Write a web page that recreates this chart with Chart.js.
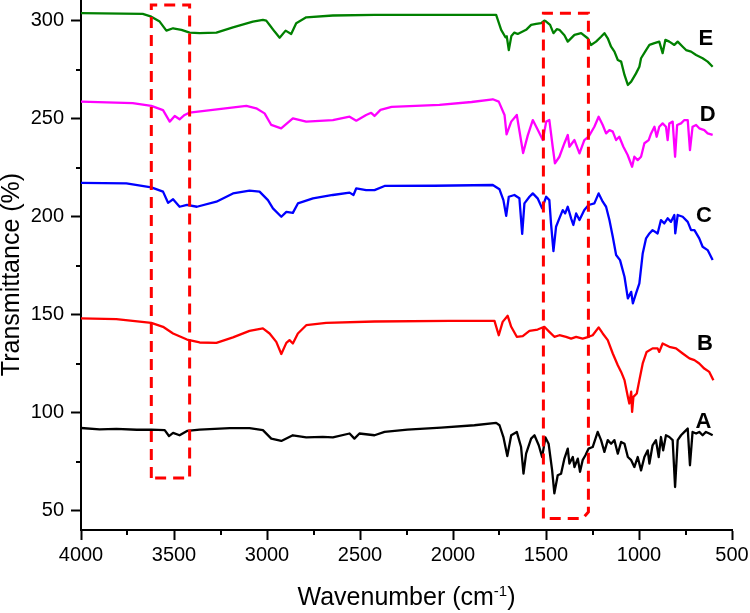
<!DOCTYPE html>
<html>
<head>
<meta charset="utf-8">
<title>FTIR spectra A-E</title>
<script src="https://cdn.jsdelivr.net/npm/chart.js@4.4.1/dist/chart.umd.min.js"></script>
<style>
    html, body { margin: 0; padding: 0; background: #fff; }
    #ftir { display: block; }
</style>
</head>
<body>
<canvas id="ftir" width="750" height="613"></canvas>
<script>
'use strict';

/* spectra: [wavenumber (cm-1), transmittance (%)] */
var seriesA = [
    [4000, 92.3], [3900, 91.6], [3810, 91.9], [3700, 91.4], [3622, 91.5], [3550, 91.2], [3527, 88.2],
    [3505, 89.8], [3470, 88.6], [3430, 90.8], [3362, 91.5], [3200, 92.2], [3094, 92.2], [3022, 91.2],
    [2977, 86.9], [2923, 85.7], [2861, 88.6], [2789, 87.5], [2700, 87.8], [2646, 87.5], [2556, 89.5],
    [2530, 86.9], [2503, 89.5], [2422, 88.6], [2368, 90.3], [2245, 91.5], [2064, 92.5], [1885, 93.7],
    [1768, 94.9], [1750, 93.7], [1729, 87.7], [1708, 78], [1687, 88.6], [1657, 90.3], [1634, 82.6],
    [1621, 69], [1607, 79.2], [1580, 86.9], [1562, 88.6], [1539, 83.5], [1521, 77.5], [1503, 87.5],
    [1486, 84.3], [1467, 70.7], [1455, 59], [1437, 68.2], [1419, 69], [1401, 76.7], [1383, 81.8],
    [1374, 74.2], [1356, 77.5], [1347, 72.4], [1329, 76.7], [1317, 70], [1303, 75.9], [1288, 78.4],
    [1271, 81.8], [1249, 82.6], [1222, 90.3], [1204, 86.1], [1186, 80.1], [1168, 86.1], [1150, 84.3],
    [1132, 86.1], [1114, 79.2], [1096, 85.2], [1078, 84.3], [1060, 77.5], [1042, 75.9], [1025, 72.4],
    [1007, 77.5], [989, 70.7], [971, 77.5], [953, 80.9], [944, 74.2], [927, 83.5], [909, 86.1],
    [894, 77.5], [882, 87.7], [870, 80.9], [855, 88.6], [837, 87.7], [819, 86.1], [806, 62.2],
    [792, 86.1], [774, 88.6], [756, 90.3], [738, 92], [726, 73.3], [712, 90.3], [693, 89.5],
    [676, 90.3], [658, 88.6], [640, 90.3], [622, 89.5], [604, 88.6]
];

var seriesB = [
    [4000, 148.2], [3810, 147.8], [3622, 145.9], [3559, 143.9], [3505, 140.5], [3430, 137.4], [3362, 135.9],
    [3272, 135.7], [3183, 138.5], [3094, 141.8], [3022, 143.1], [2986, 140.5], [2950, 136.2], [2923, 130],
    [2896, 135.7], [2879, 137.1], [2861, 135.4], [2834, 140.5], [2789, 144.7], [2682, 145.9], [2422, 146.6],
    [2019, 146.9], [1777, 146.9], [1754, 139.6], [1733, 146.4], [1706, 149.5], [1687, 143.9], [1657, 138.8],
    [1625, 139.1], [1589, 141.8], [1545, 142.5], [1509, 143.9], [1482, 141.3], [1455, 138.8], [1428, 139.6],
    [1392, 138.8], [1365, 137.9], [1338, 138.8], [1303, 137.9], [1271, 138.8], [1249, 139.6], [1217, 143.6],
    [1195, 140.5], [1168, 137.1], [1141, 130.3], [1114, 124.3], [1096, 120.9], [1078, 116.7], [1060, 108.2],
    [1052, 104.8], [1042, 110.8], [1037, 100.5], [1030, 108.2], [1012, 109.9], [998, 116.7], [980, 125.2],
    [959, 131.1], [927, 132.9], [900, 132.9], [891, 131.1], [873, 135.4], [837, 133.7], [801, 132.9],
    [765, 130.3], [729, 127.8], [702, 126.9], [676, 125.2], [649, 122.6], [622, 120.9], [600, 116.7]
];

var seriesC = [
    [4000, 217.3], [3756, 217], [3622, 215], [3559, 212.8], [3532, 207.1], [3505, 208.9], [3470, 205.1],
    [3430, 206], [3377, 205.1], [3272, 207.7], [3183, 211.9], [3094, 213.3], [3040, 212.8], [2995, 208.5],
    [2968, 204.3], [2923, 200], [2896, 202.5], [2861, 202], [2834, 206.8], [2753, 209.4], [2646, 211.1],
    [2556, 212.3], [2535, 211.1], [2520, 214.5], [2467, 213.6], [2422, 213.6], [2368, 215.7], [2100, 215.8],
    [1786, 216.2], [1750, 214], [1729, 208.5], [1714, 200.5], [1700, 210.2], [1670, 211.1], [1643, 209.4],
    [1628, 191.3], [1616, 206.8], [1589, 210.2], [1571, 211.9], [1545, 209.4], [1521, 204.3], [1499, 210.2],
    [1482, 208.5], [1473, 196.6], [1460, 182.5], [1446, 194.9], [1432, 198.3], [1410, 203.4], [1397, 201.7],
    [1383, 205.1], [1365, 199.2], [1353, 195.8], [1338, 201.7], [1320, 198.3], [1294, 203.4], [1271, 206],
    [1240, 206.8], [1217, 211.9], [1195, 207.7], [1177, 205.1], [1159, 198.3], [1141, 189.8], [1123, 180.5],
    [1102, 177.9], [1078, 169.4], [1060, 158.4], [1042, 161.7], [1033, 155.8], [1016, 160.9], [998, 166],
    [980, 181.3], [962, 189], [944, 191.5], [927, 193.2], [900, 191.5], [882, 198.3], [864, 196.6],
    [846, 199.2], [828, 197.4], [810, 200.9], [805, 191.5], [792, 200.9], [765, 200], [738, 197.4],
    [720, 193.2], [702, 193.2], [676, 189], [658, 184.7], [631, 183], [604, 177.9]
];

var seriesD = [
    [4000, 258.7], [3722, 257.9], [3622, 256.5], [3559, 254.4], [3523, 248.5], [3496, 251.4], [3470, 249.7],
    [3443, 251.9], [3416, 253.1], [3111, 256.5], [3058, 255.3], [3013, 252.7], [2977, 246.8], [2924, 245.1],
    [2861, 250.2], [2789, 248.5], [2646, 249.3], [2556, 251], [2520, 249], [2467, 251.9], [2440, 253],
    [2422, 251.4], [2390, 254.5], [2330, 256], [2073, 257], [1900, 258.5], [1786, 259.9], [1754, 258.7],
    [1723, 251.9], [1712, 242], [1687, 248.5], [1657, 251.9], [1623, 232.5], [1598, 241.5], [1571, 249.3],
    [1545, 244.5], [1517, 239.1], [1499, 248.5], [1482, 249.3], [1464, 235.7], [1452, 227.2], [1428, 230.6],
    [1401, 237.5], [1383, 241.7], [1374, 235.7], [1347, 239.1], [1320, 232.3], [1294, 239.1], [1271, 240.8],
    [1240, 245.9], [1217, 251], [1195, 246.8], [1177, 242.5], [1159, 244.2], [1141, 243.4], [1123, 239.1],
    [1106, 240.8], [1084, 235.7], [1061, 231.5], [1037, 225.5], [1025, 230.6], [1007, 228.9], [989, 230.6],
    [971, 237.5], [948, 239.1], [935, 242.5], [917, 245.9], [905, 240.8], [891, 245.9], [873, 247.6],
    [855, 245.9], [846, 239.1], [837, 247.6], [819, 248.5], [806, 230.6], [795, 246.8], [774, 247.6],
    [756, 249.3], [738, 249.3], [726, 234], [712, 245.9], [693, 246.8], [676, 245.1], [649, 244.2],
    [631, 242.5], [604, 241.7]
];

var seriesE = [
    [4000, 303.8], [3668, 303.4], [3622, 302], [3577, 299.5], [3541, 294.9], [3505, 296.1], [3460, 295.3],
    [3416, 293.9], [3362, 293.6], [3272, 293.9], [3183, 296.6], [3076, 299.5], [3022, 300.4], [3004, 300],
    [2986, 297.8], [2959, 294.4], [2932, 291.3], [2900, 294.9], [2870, 293.2], [2843, 298.7], [2789, 301.7],
    [2646, 302.6], [2422, 302.9], [1795, 302.9], [1768, 302.9], [1741, 295.3], [1718, 291.5], [1711, 292],
    [1700, 285], [1686, 292.2], [1670, 293.9], [1652, 293.2], [1607, 295.3], [1580, 297.8], [1553, 298.3],
    [1526, 298.7], [1509, 300], [1499, 299.5], [1478, 297.8], [1460, 293.6], [1442, 295.6], [1428, 295.3],
    [1401, 292.5], [1383, 289.3], [1347, 292.7], [1311, 293.6], [1276, 291], [1258, 287.6], [1231, 289.3],
    [1204, 291.8], [1186, 293.6], [1168, 291], [1150, 286.7], [1132, 284.2], [1114, 279.9], [1096, 279.1],
    [1078, 272.3], [1060, 267.2], [1042, 268.9], [1016, 273.1], [998, 276.5], [989, 280.8], [962, 285],
    [944, 287.6], [917, 288.5], [891, 289.3], [873, 283.4], [858, 290.2], [837, 289.3], [810, 287.6],
    [792, 289.3], [765, 286.7], [747, 285], [720, 284.2], [693, 282.5], [658, 280.8], [631, 279.1],
    [604, 276.5]
];

var seriesNames = ['A', 'B', 'C', 'D', 'E'];
var seriesColors = ['#000000', '#ff0000', '#0000ff', '#ff00ff', '#008000'];
// letter anchors, in data units
var labelWave = [654, 646, 651, 631, 641];
var labelTrans = [95.4, 135.4, 200.3, 251.7, 290.7];

// dashed boxes round the marked bands
var boxOH = [[3622, 66.8], [3622, 308], [3416, 308], [3416, 66.8], [3622, 66.8]];
var boxFinger = [[1514, 46.1], [1514, 303.8], [1272, 303.8], [1272, 49.5], [1303, 46.1], [1514, 46.1]];

var xMajor = [500, 1000, 1500, 2000, 2500, 3000, 3500, 4000];
var xMinor = [750, 1250, 1750, 2250, 2750, 3250, 3750];
var yMajor = [50, 100, 150, 200, 250, 300];
var yMinor = [75, 125, 175, 225, 275];

(function () {

    var FONT = '"Liberation Sans", Arial, Helvetica, sans-serif';

    Chart.defaults.font.family = FONT;
    Chart.defaults.color = '#000';

    function toPoints(series) {
        return series.map(function (p) {
            return { x: p[0], y: p[1] };
        });
    }

    function spectrum(series, idx) {
        return {
            label: seriesNames[idx],
            data: toPoints(series),
            showLine: true,
            borderColor: seriesColors[idx],
            borderWidth: 2.3,
            borderJoinStyle: 'round',
            pointRadius: 0,
            tension: 0,
            order: 1
        };
    }

    function box(points) {
        return {
            data: toPoints(points),
            showLine: true,
            borderColor: '#ff0000',
            borderWidth: 3,
            borderDash: [11, 7],
            pointRadius: 0,
            tension: 0,
            order: 0
        };
    }

    ////////////////////////////////////////////
    // minor ticks, sample letters, axis titles

    var decorations = {
        id: 'decorations',
        afterDraw: function (chart) {
            var ctx = chart.ctx;
            var xs = chart.scales.x;
            var ys = chart.scales.y;
            var area = chart.chartArea;

            ctx.save();
            ctx.strokeStyle = '#000';
            ctx.lineWidth = 2;
            ctx.beginPath();
            xMinor.forEach(function (v) {
                var px = Math.round(xs.getPixelForValue(v));
                ctx.moveTo(px, area.bottom);
                ctx.lineTo(px, area.bottom + 5);
            });
            yMinor.forEach(function (v) {
                var py = Math.round(ys.getPixelForValue(v));
                ctx.moveTo(area.left, py);
                ctx.lineTo(area.left - 5, py);
            });
            ctx.stroke();

            ctx.fillStyle = '#000';
            ctx.font = 'bold 22px ' + FONT;
            ctx.textAlign = 'center';
            ctx.textBaseline = 'middle';
            seriesNames.forEach(function (name, i) {
                ctx.fillText(name, xs.getPixelForValue(labelWave[i]), ys.getPixelForValue(labelTrans[i]));
            });

            // y title
            ctx.textBaseline = 'alphabetic';
            ctx.font = '25px ' + FONT;
            ctx.save();
            ctx.translate(19, (area.top + area.bottom) / 2 + 9);
            ctx.rotate(-Math.PI / 2);
            ctx.fillText('Transmittance (%)', 0, 0);
            ctx.restore();

            // x title with superscript
            var head = 'Wavenumber (cm', sup = '-1', tail = ')';
            var w1 = ctx.measureText(head).width;
            var w3 = ctx.measureText(tail).width;
            ctx.font = '15px ' + FONT;
            var w2 = ctx.measureText(sup).width;
            var base = chart.height - 8;
            var left = (area.left + area.right) / 2 - (w1 + w2 + w3) / 2;
            ctx.textAlign = 'left';
            ctx.fillText(sup, left + w1, base - 9);
            ctx.font = '25px ' + FONT;
            ctx.fillText(head, left, base);
            ctx.fillText(tail, left + w1 + w2, base);
            ctx.restore();
        }
    };

    var datasets = [box(boxOH), box(boxFinger)];
    [seriesA, seriesB, seriesC, seriesD, seriesE].forEach(function (s, i) {
        datasets.push(spectrum(s, i));
    });

    var ctx = document.getElementById('ftir').getContext('2d');

    new Chart(ctx, {
        type: 'scatter',
        data: { datasets: datasets },
        plugins: [decorations],
        options: {
            responsive: false,
            animation: false,
            events: [],
            layout: { padding: { top: 1, right: 18, bottom: 0, left: 0 } },
            plugins: {
                legend: { display: false },
                tooltip: { enabled: false }
            },
            scales: {
                x: {
                    type: 'linear',
                    reverse: true,
                    min: 500,
                    max: 4000,
                    afterBuildTicks: function (scale) {
                        scale.ticks = xMajor.map(function (v) { return { value: v }; });
                    },
                    afterFit: function (scale) {
                        scale.height = 83;
                        scale.paddingLeft = 0;
                        scale.paddingRight = 0;
                    },
                    border: { display: true, color: '#000', width: 2 },
                    grid: {
                        display: true,
                        drawOnChartArea: false,
                        drawTicks: true,
                        tickLength: 10,
                        tickWidth: 2,
                        tickColor: '#000'
                    },
                    ticks: {
                        color: '#000',
                        font: { size: 20 },
                        padding: 3,
                        maxRotation: 0,
                        autoSkip: false,
                        callback: function (v) { return String(v); }
                    }
                },
                y: {
                    type: 'linear',
                    min: 40.3,
                    max: 310,
                    afterBuildTicks: function (scale) {
                        scale.ticks = yMajor.map(function (v) { return { value: v }; });
                    },
                    afterFit: function (scale) {
                        scale.width = 81;
                        scale.paddingTop = 0;
                    },
                    border: { display: true, color: '#000', width: 2 },
                    grid: {
                        display: true,
                        drawOnChartArea: false,
                        drawTicks: true,
                        tickLength: 10,
                        tickWidth: 2,
                        tickColor: '#000'
                    },
                    ticks: {
                        color: '#000',
                        font: { size: 20 },
                        padding: 7,
                        autoSkip: false,
                        callback: function (v) { return String(v); }
                    }
                }
            }
        }
    });

})();
</script>
</body>
</html>
